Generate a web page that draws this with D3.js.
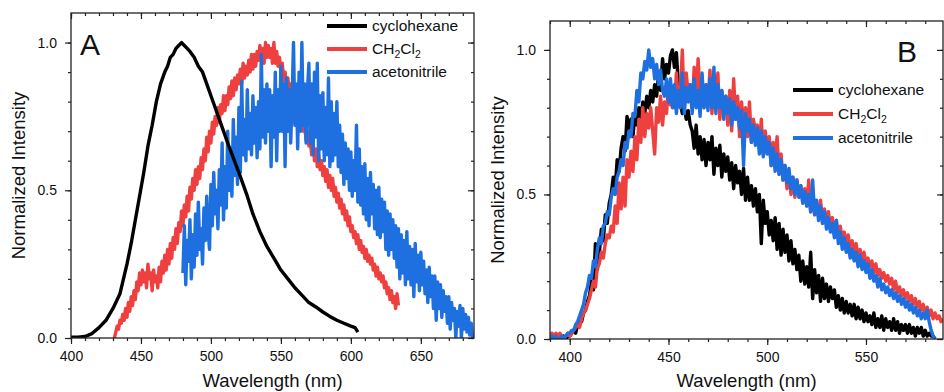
<!DOCTYPE html>
<html>
<head>
<meta charset="utf-8">
<script src="https://cdn.jsdelivr.net/npm/d3@7"></script>
<style>
body { margin: 0; background: #fff; }
text { font-family: "Liberation Sans", Arial, sans-serif; fill: #111; }
</style>
</head>
<body>
<div class="container"></div>
<script>
// panel A: emission spectra, 1 nm steps
var aCyclo = [[400,0.003],[405,0.003],[410,0.005],[415,0.015],[420,0.035],[425,0.06],[430,0.1],[435,0.15],[440,0.25],[443,0.32],[446,0.4],[449,0.48],[452,0.56],[455,0.65],[458,0.72],[461,0.8],[464,0.86],[467,0.9],[469,0.92],[471,0.95],[473,0.96],[475,0.98],[477,0.99],[479,1.0],[481,0.99],[483,0.98],[485,0.97],[488,0.95],[491,0.92],[494,0.9],[497,0.86],[500,0.82],[503,0.78],[506,0.74],[509,0.7],[512,0.66],[516,0.61],[520,0.56],[523,0.52],[526,0.48],[530,0.42],[535,0.36],[540,0.31],[545,0.27],[550,0.23],[555,0.2],[560,0.17],[565,0.145],[570,0.12],[575,0.105],[580,0.088],[585,0.073],[590,0.06],[595,0.05],[600,0.04],[603,0.035],[605,0.02]];

var aCH2Cl2Start = 431;
var aCH2Cl2 = [
0.00,0.02,0.04,0.03,0.06,0.05,0.08,0.06,0.10,0.07,
0.12,0.09,0.14,0.11,0.16,0.13,0.19,0.16,0.22,0.18,
0.23,0.19,0.22,0.17,0.25,0.20,0.22,0.16,0.23,0.19,
0.21,0.17,0.24,0.19,0.26,0.22,0.28,0.23,0.30,0.25,
0.32,0.27,0.34,0.30,0.37,0.32,0.39,0.36,0.43,0.38,
0.45,0.41,0.48,0.43,0.51,0.47,0.54,0.50,0.57,0.52,
0.58,0.54,0.61,0.57,0.64,0.60,0.68,0.63,0.70,0.66,
0.73,0.69,0.75,0.72,0.78,0.73,0.79,0.76,0.82,0.77,
0.82,0.79,0.85,0.81,0.87,0.82,0.88,0.84,0.89,0.86,
0.91,0.86,0.93,0.88,0.92,0.89,0.94,0.90,0.96,0.91,
0.96,0.92,0.97,0.94,0.99,0.95,0.98,0.93,1.00,0.95,
0.99,0.95,0.98,0.93,1.00,0.93,0.97,0.92,0.95,0.90,
0.93,0.87,0.90,0.85,0.88,0.82,0.86,0.80,0.83,0.78,
0.80,0.75,0.78,0.72,0.75,0.70,0.72,0.67,0.70,0.65,
0.67,0.62,0.66,0.60,0.64,0.58,0.62,0.57,0.60,0.55,
0.58,0.53,0.57,0.51,0.55,0.50,0.54,0.48,0.51,0.46,
0.49,0.44,0.47,0.42,0.45,0.40,0.43,0.38,0.41,0.36,
0.38,0.34,0.36,0.32,0.35,0.30,0.33,0.29,0.31,0.27,
0.30,0.26,0.28,0.25,0.27,0.23,0.25,0.21,0.24,0.20,
0.22,0.19,0.21,0.17,0.19,0.15,0.17,0.13,0.16,0.12,
0.14,0.10,0.15,0.11];

var aAcetoStart = 480;
var aAceto = [
0.22,0.38,0.18,0.33,0.26,0.40,0.20,0.35,0.24,0.42,
0.28,0.46,0.30,0.37,0.25,0.44,0.33,0.48,0.36,0.30,
0.52,0.38,0.56,0.42,0.50,0.37,0.57,0.45,0.66,0.40,
0.58,0.44,0.70,0.50,0.62,0.48,0.74,0.55,0.68,0.52,
0.78,0.56,0.87,0.62,0.74,0.60,0.84,0.64,0.76,0.62,
0.82,0.66,0.78,0.61,0.80,0.64,0.96,0.68,0.84,0.66,
0.86,0.70,0.84,0.58,0.82,0.68,0.90,0.60,0.84,0.70,
0.92,0.70,0.86,0.58,0.88,0.70,0.84,0.66,0.80,1.00,
0.72,0.86,0.64,0.90,0.70,1.00,0.72,0.86,0.66,0.84,
0.93,0.66,0.86,0.62,0.90,0.68,0.93,0.60,0.82,0.64,
0.83,0.60,0.78,0.62,0.88,0.58,0.80,0.60,0.76,0.62,
0.80,0.58,0.72,0.56,0.69,0.52,0.66,0.54,0.64,0.50,
0.63,0.48,0.60,0.50,0.72,0.46,0.64,0.45,0.58,0.42,
0.59,0.40,0.54,0.38,0.56,0.42,0.52,0.37,0.50,0.35,
0.51,0.34,0.47,0.36,0.46,0.30,0.43,0.28,0.42,0.30,
0.40,0.27,0.38,0.24,0.37,0.20,0.35,0.22,0.33,0.18,
0.36,0.20,0.31,0.18,0.30,0.14,0.32,0.19,0.28,0.16,
0.29,0.18,0.26,0.15,0.23,0.12,0.24,0.14,0.21,0.10,
0.21,0.06,0.19,0.10,0.18,0.07,0.16,0.09,0.14,0.05,
0.14,0.03,0.12,0.06,0.10,0.00,0.09,0.04,0.11,0.00,
0.10,0.03,0.08,0.02,0.07,0.01,0.05,0.00];

// panel B, all start at 390 nm, 1 nm steps
var bStart = 390;
var bCyclo = [
0.00,0.01,0.00,0.01,0.00,0.01,0.00,0.01,0.00,0.01,
0.01,0.02,0.03,0.02,0.05,0.07,0.06,0.09,0.10,0.13,
0.15,0.20,0.17,0.33,0.24,0.30,0.38,0.34,0.43,0.40,
0.47,0.50,0.56,0.52,0.62,0.58,0.66,0.70,0.65,0.77,
0.72,0.76,0.70,0.78,0.74,0.80,0.76,0.82,0.78,0.84,
0.80,0.86,0.82,0.88,0.84,0.92,0.86,0.97,0.90,0.95,
0.92,0.98,1.00,0.94,0.99,0.88,0.82,0.78,0.80,0.76,
0.79,0.74,0.72,0.66,0.74,0.64,0.70,0.62,0.69,0.60,
0.68,0.62,0.70,0.57,0.66,0.60,0.67,0.56,0.64,0.58,
0.63,0.55,0.61,0.52,0.60,0.54,0.58,0.50,0.59,0.48,
0.56,0.48,0.53,0.46,0.52,0.44,0.50,0.33,0.48,0.40,
0.44,0.36,0.41,0.34,0.42,0.31,0.40,0.29,0.38,0.30,
0.36,0.27,0.34,0.26,0.31,0.24,0.29,0.20,0.27,0.19,
0.25,0.18,0.30,0.14,0.24,0.16,0.22,0.13,0.21,0.14,
0.19,0.13,0.18,0.14,0.17,0.11,0.15,0.10,0.14,0.09,
0.13,0.09,0.12,0.08,0.12,0.07,0.11,0.07,0.10,0.06,
0.09,0.06,0.08,0.05,0.09,0.04,0.07,0.04,0.08,0.03,
0.07,0.04,0.06,0.03,0.07,0.03,0.06,0.02,0.05,0.03,
0.05,0.02,0.05,0.02,0.04,0.01,0.04,0.02,0.04,0.01,
0.03,0.01,0.02,0.01,0.01,0.00];

var bCH2Cl2 = [
0.01,0.02,0.01,0.02,0.01,0.02,0.01,0.00,0.01,0.02,
0.01,0.02,0.03,0.04,0.05,0.04,0.07,0.09,0.10,0.12,
0.14,0.17,0.20,0.18,0.25,0.26,0.30,0.28,0.33,0.36,
0.35,0.39,0.37,0.46,0.40,0.54,0.45,0.56,0.46,0.62,
0.56,0.65,0.58,0.70,0.62,0.76,0.68,0.80,0.70,0.78,
0.73,0.80,0.72,0.64,0.80,0.75,0.84,0.74,0.82,0.78,
0.88,0.81,0.87,0.80,0.92,0.82,0.85,1.00,0.80,0.92,
0.84,0.88,0.80,0.94,0.82,0.97,0.84,0.90,0.80,0.88,
0.82,0.93,0.78,0.88,0.80,0.92,0.76,0.86,0.80,0.84,
0.74,0.86,0.72,0.90,0.76,0.84,0.70,0.82,0.74,0.80,
0.70,0.82,0.68,0.76,0.72,0.74,0.66,0.76,0.64,0.72,
0.66,0.70,0.60,0.68,0.62,0.70,0.57,0.64,0.55,0.60,
0.52,0.58,0.50,0.56,0.49,0.55,0.50,0.53,0.47,0.52,
0.46,0.55,0.44,0.49,0.43,0.47,0.42,0.48,0.40,0.45,
0.40,0.44,0.38,0.42,0.36,0.41,0.35,0.39,0.34,0.37,
0.33,0.36,0.31,0.34,0.30,0.33,0.28,0.31,0.27,0.30,
0.26,0.28,0.25,0.27,0.23,0.26,0.22,0.24,0.21,0.23,
0.20,0.22,0.19,0.21,0.17,0.20,0.16,0.18,0.15,0.17,
0.14,0.16,0.13,0.15,0.12,0.14,0.11,0.13,0.10,0.12,
0.09,0.11,0.08,0.10,0.07,0.09,0.07,0.08,0.06,0.07];

var bAceto = [
0.00,0.01,0.00,0.01,0.00,0.00,0.01,0.00,0.01,0.02,
0.02,0.03,0.03,0.05,0.06,0.08,0.10,0.12,0.16,0.18,
0.22,0.21,0.27,0.25,0.31,0.35,0.33,0.39,0.40,0.44,
0.43,0.49,0.52,0.50,0.56,0.58,0.62,0.60,0.68,0.66,
0.72,0.70,0.78,0.77,0.86,0.82,0.92,0.90,0.96,0.93,
1.00,0.94,0.97,0.90,0.95,0.88,0.93,0.86,0.84,0.90,
0.82,0.90,0.80,0.88,0.78,0.86,0.80,0.92,0.78,0.87,
0.82,0.88,0.78,0.90,0.80,0.86,0.77,0.92,0.80,0.88,
0.79,0.90,0.80,0.94,0.78,0.88,0.80,0.86,0.76,0.84,
0.78,0.83,0.74,0.82,0.76,0.80,0.73,0.79,0.60,0.78,
0.72,0.76,0.68,0.74,0.67,0.73,0.64,0.72,0.63,0.70,
0.64,0.68,0.60,0.66,0.58,0.64,0.57,0.62,0.55,0.60,
0.54,0.59,0.52,0.56,0.50,0.55,0.49,0.53,0.47,0.51,
0.46,0.50,0.44,0.55,0.43,0.48,0.41,0.46,0.40,0.44,
0.38,0.42,0.37,0.40,0.35,0.41,0.33,0.37,0.31,0.35,
0.30,0.33,0.28,0.31,0.27,0.30,0.25,0.29,0.24,0.27,
0.23,0.26,0.21,0.24,0.20,0.22,0.18,0.21,0.17,0.19,
0.16,0.18,0.15,0.17,0.14,0.16,0.13,0.15,0.12,0.14,
0.11,0.13,0.10,0.12,0.09,0.11,0.08,0.10,0.07,0.09,
0.07,0.10,0.06,0.03,0.01,0.00];

var xTicksA = [400, 450, 500, 550, 600, 650];
var xTicksB = [400, 450, 500, 550];
var yTicks = [0.0, 0.5, 1.0];
var legendNames = ["cyclohexane", "CH2Cl2", "acetonitrile"];
var colors = ["#000000", "#ef4040", "#1e6fe0"];

var w = 944, h = 392;
var svg = d3.select(".container").append("svg").attr("width", w).attr("height", h);

function toPts(start, vals) {
    return vals.map(function(v, i) { return [start + i, v]; });
}

function panel(opt) {
    var x = d3.scaleLinear().domain(opt.xDomain).range([opt.left, opt.right]);
    var y = d3.scaleLinear().domain([0, 1.1]).range([opt.bottom, opt.top]);
    var g = svg.append("g");

    var clipId = "clip" + opt.label;
    g.append("clipPath").attr("id", clipId).append("rect")
        .attr("x", opt.left).attr("y", opt.top)
        .attr("width", opt.right - opt.left).attr("height", opt.bottom - opt.top);

    var line = d3.line().x(function(d) { return x(d[0]); }).y(function(d) { return y(d[1]); });

    var plot = g.append("g").attr("clip-path", "url(#" + clipId + ")");
    opt.series.forEach(function(s) {
        plot.append("path").datum(s.pts)
            .attr("d", line)
            .attr("fill", "none")
            .attr("stroke", colors[s.c])
            .attr("stroke-width", 3.4)
            .attr("stroke-linejoin", "round");
    });

    var minorX = d3.range(opt.xDomain[0], opt.xDomain[1] + 0.1, 10).filter(function(v) { return v % 10 === 0; });
    var minorY = d3.range(0, 11).map(function(i) { return i / 10; });

    // bottom + left axes, ticks outward
    g.append("g").attr("transform", "translate(0," + opt.bottom + ")")
        .call(d3.axisBottom(x).tickValues(minorX).tickSize(3).tickFormat(""));
    g.append("g").attr("transform", "translate(0," + opt.bottom + ")")
        .call(d3.axisBottom(x).tickValues(opt.xTicks).tickSize(6).tickPadding(7).tickFormat(d3.format("d")));
    g.append("g").attr("transform", "translate(" + opt.left + ",0)")
        .call(d3.axisLeft(y).tickValues(minorY).tickSize(3).tickFormat(""));
    g.append("g").attr("transform", "translate(" + opt.left + ",0)")
        .call(d3.axisLeft(y).tickValues(yTicks).tickSize(6).tickPadding(8).tickFormat(d3.format(".1f")));

    // top + right, ticks inward
    g.append("g").attr("transform", "translate(0," + opt.top + ")")
        .call(d3.axisBottom(x).tickValues(minorX).tickSize(3).tickFormat(""));
    g.append("g").attr("transform", "translate(0," + opt.top + ")")
        .call(d3.axisBottom(x).tickValues(opt.xTicks).tickSize(6).tickFormat(""));
    g.append("g").attr("transform", "translate(" + opt.right + ",0)")
        .call(d3.axisLeft(y).tickValues(minorY).tickSize(3).tickFormat(""));
    g.append("g").attr("transform", "translate(" + opt.right + ",0)")
        .call(d3.axisLeft(y).tickValues(yTicks).tickSize(6).tickFormat(""));

    g.selectAll(".domain").remove();
    g.selectAll(".tick line").attr("stroke", "#222").attr("stroke-width", 1.2);
    g.selectAll(".tick text").attr("font-size", 14).attr("fill", "#222")
        .attr("font-family", "'Liberation Sans', Arial, sans-serif");

    g.append("rect").attr("x", opt.left).attr("y", opt.top)
        .attr("width", opt.right - opt.left).attr("height", opt.bottom - opt.top)
        .attr("fill", "none").attr("stroke", "#222").attr("stroke-width", 1.3);

    g.append("text").attr("x", (opt.left + opt.right) / 2).attr("y", 387)
        .attr("text-anchor", "middle").attr("font-size", 18.5).text("Wavelength (nm)");
    g.append("text")
        .attr("transform", "translate(" + (opt.left - 46) + "," + ((opt.top + opt.bottom) / 2) + ")rotate(-90)")
        .attr("text-anchor", "middle").attr("font-size", 18.5).text("Normalized Intensity");

    g.append("text").attr("x", opt.labelX).attr("y", opt.labelY)
        .attr("font-size", 30).text(opt.label);

    // legend
    legendNames.forEach(function(name, i) {
        var ly = opt.legY + i * opt.legGap;
        g.append("line").attr("x1", opt.legX).attr("x2", opt.legX + 40)
            .attr("y1", ly).attr("y2", ly)
            .attr("stroke", colors[i]).attr("stroke-width", 4);
        var t = g.append("text").attr("x", opt.legX + 45).attr("y", ly + 5).attr("font-size", 15.5);
        if (name === "CH2Cl2") {
            t.append("tspan").text("CH");
            t.append("tspan").attr("font-size", 10.5).attr("dy", 4).text("2");
            t.append("tspan").attr("dy", -4).text("Cl");
            t.append("tspan").attr("font-size", 10.5).attr("dy", 4).text("2");
        } else {
            t.text(name);
        }
    });
}

panel({
    label: "A", labelX: 80, labelY: 55,
    left: 71, right: 474, top: 13, bottom: 338,
    xDomain: [400, 688], xTicks: xTicksA,
    legX: 327, legY: 26, legGap: 23,
    series: [
        { pts: toPts(aCH2Cl2Start, aCH2Cl2), c: 1 },
        { pts: toPts(aAcetoStart, aAceto), c: 2 },
        { pts: aCyclo, c: 0 }
    ]
});

panel({
    label: "B", labelX: 897, labelY: 62,
    left: 550, right: 943, top: 21, bottom: 339,
    xDomain: [390, 589], xTicks: xTicksB,
    legX: 793, legY: 90, legGap: 24,
    series: [
        { pts: toPts(bStart, bCyclo), c: 0 },
        { pts: toPts(bStart, bCH2Cl2), c: 1 },
        { pts: toPts(bStart, bAceto), c: 2 }
    ]
});
</script>
</body>
</html>
